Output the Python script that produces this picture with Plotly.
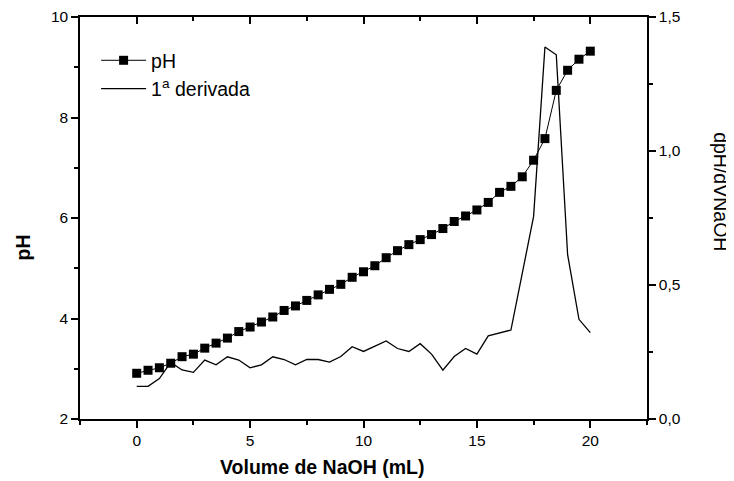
import plotly.graph_objects as go

volume = [i * 0.5 for i in range(41)]
ph = [2.91, 2.97, 3.02, 3.11, 3.24, 3.29, 3.41, 3.51, 3.61, 3.74,
      3.83, 3.93, 4.03, 4.16, 4.25, 4.36, 4.47, 4.58, 4.68, 4.82,
      4.93, 5.05, 5.21, 5.35, 5.47, 5.57, 5.67, 5.79, 5.93, 6.04,
      6.16, 6.31, 6.51, 6.63, 6.82, 7.15, 7.58, 8.54, 8.94, 9.16, 9.32]
derivada = [0.122, 0.122, 0.151, 0.211, 0.183, 0.174, 0.220, 0.202, 0.232, 0.220,
            0.191, 0.202, 0.232, 0.222, 0.202, 0.222, 0.222, 0.212, 0.233, 0.270,
            0.252, 0.273, 0.291, 0.263, 0.252, 0.281, 0.242, 0.182, 0.233, 0.263,
            0.242, 0.310, 0.320, 0.332, 0.543, 0.756, 1.388, 1.359, 0.613, 0.372, 0.322]

font = "Liberation Sans, Arial, sans-serif"

fig = go.Figure()
fig.add_trace(go.Scatter(
    x=volume, y=ph, name="pH", mode="lines+markers",
    line=dict(color="black", width=1),
    marker=dict(symbol="square", size=9, color="black"),
))
fig.add_trace(go.Scatter(
    x=volume, y=derivada, name="1<sup>a</sup> derivada", mode="lines",
    line=dict(color="black", width=1.3), yaxis="y2",
))
# invisible trace to carry the top mirror axis
fig.add_trace(go.Scatter(x=[0], y=[5], xaxis="x2", mode="markers",
                         marker=dict(opacity=0), showlegend=False, hoverinfo="skip"))

axis_common = dict(showline=True, linecolor="black", linewidth=1.5, automargin=False,
                   showgrid=False, zeroline=False, tickcolor="black",
                   tickwidth=1.5, tickfont=dict(size=15.5, color="black", family=font))
minor_out = dict(ticks="outside", ticklen=4, tickcolor="black", tickwidth=1.5)
title_pos = dict(xref="paper", yref="paper", showarrow=False,
                 xanchor="center", yanchor="middle")

fig.update_layout(
    width=726, height=473,
    margin=dict(l=72, r=87, t=8.5, b=61.5),
    paper_bgcolor="white", plot_bgcolor="white",
    separators=",.",
    font=dict(family=font, color="black"),
    xaxis=dict(range=[-2.5, 22.5], dtick=5, ticks="outside", ticklen=7,
               minor=dict(dtick=2.5, **minor_out), **axis_common),
    xaxis2=dict(range=[-2.5, 22.5], dtick=5, ticks="inside", ticklen=7,
                minor=dict(dtick=2.5, ticks="inside", ticklen=4, tickcolor="black", tickwidth=1.5),
                overlaying="x", side="top", showticklabels=False, **axis_common),
    yaxis=dict(range=[2, 10], dtick=2, ticks="outside", ticklen=7,
               minor=dict(dtick=1, **minor_out), **axis_common),
    yaxis2=dict(range=[0, 1.5], dtick=0.5, tickformat=".1f", ticks="outside", ticklen=7,
                minor=dict(dtick=0.25, **minor_out),
                overlaying="y", side="right", **axis_common),
    legend=dict(x=0.0284, y=0.94, xanchor="left", yanchor="top",
                bgcolor="rgba(0,0,0,0)", font=dict(size=19.5, family=font),
                itemwidth=45, tracegroupgap=0),
    showlegend=True,
    annotations=[
        dict(text="<b>Volume de NaOH (mL)</b>", x=0.4263, y=-0.1203,
             font=dict(size=19.5, family=font), **title_pos),
        dict(text="<b>pH</b>", textangle=-90, x=-0.1014, y=0.4256,
             font=dict(size=19.5, family=font), **title_pos),
        dict(text="dpH/dVNaOH", textangle=90, x=1.130, y=0.565,
             font=dict(size=19.5, family=font), **title_pos),
    ],
)

fig.write_html("out.html")
